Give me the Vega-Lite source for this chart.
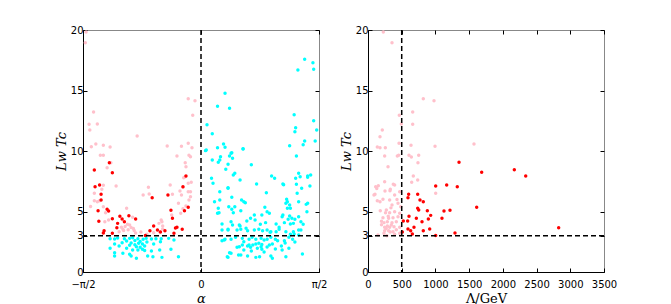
{
  "$schema": "https://vega.github.io/schema/vega-lite/v6.json",
  "background": "white",
  "padding": {"left": 54, "top": 24, "right": 5, "bottom": 5},
  "spacing": 11,
  "datasets": {
    "left": [
      {"a":-1.53,"L":19.83,"c":"pink"},{"a":-1.54,"L":18.95,"c":"pink"},{"a":-1.43,"L":13.22,"c":"pink"},{"a":-1.49,"L":12.21,"c":"pink"},{"a":-1.38,"L":12.23,"c":"pink"},{"a":-1.48,"L":11.73,"c":"pink"},{"a":-0.85,"L":11.24,"c":"pink"},{"a":-1.40,"L":10.58,"c":"pink"},{"a":-1.30,"L":10.47,"c":"pink"},{"a":-1.46,"L":10.35,"c":"pink"},{"a":-1.21,"L":10.33,"c":"pink"},{"a":-1.34,"L":9.64,"c":"pink"},{"a":-1.30,"L":9.64,"c":"pink"},{"a":-0.17,"L":14.32,"c":"pink"},{"a":-0.08,"L":14.16,"c":"pink"},{"a":-0.11,"L":12.95,"c":"pink"},{"a":-0.45,"L":10.41,"c":"pink"},{"a":-0.26,"L":10.39,"c":"pink"},{"a":-0.17,"L":10.64,"c":"pink"},{"a":-0.12,"L":10.27,"c":"pink"},{"a":-0.32,"L":9.59,"c":"pink"},{"a":-0.16,"L":9.64,"c":"pink"},{"a":-0.14,"L":9.53,"c":"pink"},{"a":-1.20,"L":9.03,"c":"pink"},{"a":-1.25,"L":8.62,"c":"pink"},{"a":-1.13,"L":7.11,"c":"pink"},{"a":-1.42,"L":6.50,"c":"pink"},{"a":-1.30,"L":7.17,"c":"pink"},{"a":-1.32,"L":6.83,"c":"pink"},{"a":-1.35,"L":5.89,"c":"pink"},{"a":-1.42,"L":5.89,"c":"pink"},{"a":-1.47,"L":5.41,"c":"pink"},{"a":-1.30,"L":5.40,"c":"pink"},{"a":-1.27,"L":4.90,"c":"pink"},{"a":-0.99,"L":5.26,"c":"pink"},{"a":-0.91,"L":4.52,"c":"pink"},{"a":-1.28,"L":4.16,"c":"pink"},{"a":-1.23,"L":4.30,"c":"pink"},{"a":-0.95,"L":3.88,"c":"pink"},{"a":-1.01,"L":3.76,"c":"pink"},{"a":-0.93,"L":3.68,"c":"pink"},{"a":-1.04,"L":3.53,"c":"pink"},{"a":-1.09,"L":3.33,"c":"pink"},{"a":-1.03,"L":3.43,"c":"pink"},{"a":-0.97,"L":3.50,"c":"pink"},{"a":-0.89,"L":3.43,"c":"pink"},{"a":-0.80,"L":3.31,"c":"pink"},{"a":-0.87,"L":3.22,"c":"pink"},{"a":-0.63,"L":3.25,"c":"pink"},{"a":-0.55,"L":3.33,"c":"pink"},{"a":-0.77,"L":6.36,"c":"pink"},{"a":-0.70,"L":7.00,"c":"pink"},{"a":-0.69,"L":6.45,"c":"pink"},{"a":-0.72,"L":3.12,"c":"pink"},{"a":-0.56,"L":4.02,"c":"pink"},{"a":-0.53,"L":4.30,"c":"pink"},{"a":-0.51,"L":3.55,"c":"pink"},{"a":-0.52,"L":4.16,"c":"pink"},{"a":-0.38,"L":6.42,"c":"pink"},{"a":-0.41,"L":7.19,"c":"pink"},{"a":-0.30,"L":5.68,"c":"pink"},{"a":-0.27,"L":4.85,"c":"pink"},{"a":-0.24,"L":7.00,"c":"pink"},{"a":-0.21,"L":7.88,"c":"pink"},{"a":-0.28,"L":6.69,"c":"pink"},{"a":-0.26,"L":6.36,"c":"pink"},{"a":-0.24,"L":5.23,"c":"pink"},{"a":-0.20,"L":5.45,"c":"pink"},{"a":-0.17,"L":6.64,"c":"pink"},{"a":-0.14,"L":6.64,"c":"pink"},{"a":-0.16,"L":5.95,"c":"pink"},{"a":-0.14,"L":6.22,"c":"pink"},{"a":-0.17,"L":7.33,"c":"pink"},{"a":-0.23,"L":7.79,"c":"pink"},{"a":-0.20,"L":8.70,"c":"pink"},{"a":-0.21,"L":9.03,"c":"pink"},{"a":-0.13,"L":7.41,"c":"pink"},{"a":-0.39,"L":4.71,"c":"pink"},{"a":-0.51,"L":3.80,"c":"pink"},{"a":-1.38,"L":5.81,"c":"pink"},{"a":-0.90,"L":3.60,"c":"pink"},{"a":-0.98,"L":3.95,"c":"pink"},{"a":-1.06,"L":3.70,"c":"pink"},
      {"a":-1.22,"L":9.03,"c":"red"},{"a":-1.42,"L":8.43,"c":"red"},{"a":-1.18,"L":8.21,"c":"red"},{"a":-1.35,"L":7.19,"c":"red"},{"a":-1.41,"L":7.05,"c":"red"},{"a":-1.33,"L":6.42,"c":"red"},{"a":-0.65,"L":6.14,"c":"red"},{"a":-1.33,"L":5.95,"c":"red"},{"a":-1.37,"L":5.07,"c":"red"},{"a":-1.25,"L":5.18,"c":"red"},{"a":-1.23,"L":5.04,"c":"red"},{"a":-0.96,"L":4.65,"c":"red"},{"a":-1.08,"L":4.60,"c":"red"},{"a":-1.18,"L":4.40,"c":"red"},{"a":-1.05,"L":4.38,"c":"red"},{"a":-1.02,"L":4.16,"c":"red"},{"a":-0.87,"L":4.38,"c":"red"},{"a":-1.36,"L":4.19,"c":"red"},{"a":-1.11,"L":4.02,"c":"red"},{"a":-1.12,"L":3.66,"c":"red"},{"a":-1.29,"L":3.41,"c":"red"},{"a":-1.18,"L":3.20,"c":"red"},{"a":-0.68,"L":3.41,"c":"red"},{"a":-0.58,"L":3.47,"c":"red"},{"a":-0.74,"L":3.02,"c":"red"},{"a":-0.63,"L":3.80,"c":"red"},{"a":-0.44,"L":6.36,"c":"red"},{"a":-0.40,"L":5.10,"c":"red"},{"a":-0.38,"L":4.44,"c":"red"},{"a":-0.36,"L":3.20,"c":"red"},{"a":-0.32,"L":3.69,"c":"red"},{"a":-0.25,"L":3.53,"c":"red"},{"a":-0.22,"L":5.07,"c":"red"},{"a":-0.20,"L":7.93,"c":"red"},{"a":-0.24,"L":7.05,"c":"red"},{"a":-0.17,"L":5.35,"c":"red"},{"a":-0.34,"L":3.64,"c":"red"},{"a":-0.54,"L":3.31,"c":"red"},{"a":-0.48,"L":3.41,"c":"red"},{"a":-1.30,"L":3.22,"c":"red"},
      {"a":-1.21,"L":2.75,"c":"cyan"},{"a":-1.15,"L":2.73,"c":"cyan"},{"a":-1.11,"L":2.81,"c":"cyan"},{"a":-1.02,"L":2.75,"c":"cyan"},{"a":-0.95,"L":2.78,"c":"cyan"},{"a":-0.91,"L":2.83,"c":"cyan"},{"a":-0.84,"L":2.75,"c":"cyan"},{"a":-0.77,"L":2.70,"c":"cyan"},{"a":-0.73,"L":2.78,"c":"cyan"},{"a":-0.66,"L":2.73,"c":"cyan"},{"a":-0.60,"L":2.75,"c":"cyan"},{"a":-0.53,"L":2.75,"c":"cyan"},{"a":-1.15,"L":2.31,"c":"cyan"},{"a":-1.05,"L":2.42,"c":"cyan"},{"a":-0.95,"L":2.21,"c":"cyan"},{"a":-0.88,"L":2.26,"c":"cyan"},{"a":-0.83,"L":2.37,"c":"cyan"},{"a":-0.78,"L":2.31,"c":"cyan"},{"a":-0.86,"L":2.09,"c":"cyan"},{"a":-0.81,"L":2.04,"c":"cyan"},{"a":-0.75,"L":2.15,"c":"cyan"},{"a":-1.21,"L":1.96,"c":"cyan"},{"a":-0.99,"L":1.96,"c":"cyan"},{"a":-0.91,"L":1.82,"c":"cyan"},{"a":-0.84,"L":1.82,"c":"cyan"},{"a":-0.78,"L":1.88,"c":"cyan"},{"a":-1.04,"L":1.55,"c":"cyan"},{"a":-0.95,"L":1.46,"c":"cyan"},{"a":-1.15,"L":1.59,"c":"cyan"},{"a":-0.66,"L":1.74,"c":"cyan"},{"a":-0.55,"L":1.82,"c":"cyan"},{"a":-1.15,"L":1.32,"c":"cyan"},{"a":-0.93,"L":1.32,"c":"cyan"},{"a":-0.86,"L":1.13,"c":"cyan"},{"a":-0.71,"L":1.32,"c":"cyan"},{"a":-0.64,"L":1.26,"c":"cyan"},{"a":-0.52,"L":1.21,"c":"cyan"},{"a":-0.40,"L":1.88,"c":"cyan"},{"a":-0.30,"L":1.26,"c":"cyan"},{"a":-0.54,"L":2.50,"c":"cyan"},{"a":-0.43,"L":2.78,"c":"cyan"},{"a":-0.36,"L":2.64,"c":"cyan"},{"a":-0.88,"L":2.60,"c":"cyan"},{"a":-0.99,"L":2.56,"c":"cyan"},{"a":-0.81,"L":2.52,"c":"cyan"},{"a":-0.72,"L":2.48,"c":"cyan"},{"a":-0.93,"L":2.40,"c":"cyan"},{"a":-0.75,"L":1.78,"c":"cyan"},{"a":-1.09,"L":2.15,"c":"cyan"},{"a":-0.63,"L":2.31,"c":"cyan"},
      {"a":0.06,"L":10.03,"c":"cyan"},{"a":0.26,"L":9.53,"c":"cyan"},{"a":0.40,"L":9.81,"c":"cyan"},{"a":0.38,"L":9.59,"c":"cyan"},{"a":0.15,"L":9.26,"c":"cyan"},{"a":0.23,"L":9.07,"c":"cyan"},{"a":0.25,"L":9.26,"c":"cyan"},{"a":0.36,"L":8.90,"c":"cyan"},{"a":0.67,"L":8.87,"c":"cyan"},{"a":1.27,"L":9.59,"c":"cyan"},{"a":0.14,"L":7.74,"c":"cyan"},{"a":0.16,"L":7.33,"c":"cyan"},{"a":0.43,"L":8.02,"c":"cyan"},{"a":0.52,"L":7.60,"c":"cyan"},{"a":0.94,"L":7.93,"c":"cyan"},{"a":0.98,"L":7.74,"c":"cyan"},{"a":1.30,"L":8.16,"c":"cyan"},{"a":1.32,"L":7.88,"c":"cyan"},{"a":1.42,"L":7.93,"c":"cyan"},{"a":1.46,"L":8.02,"c":"cyan"},{"a":0.74,"L":7.27,"c":"cyan"},{"a":1.09,"L":7.27,"c":"cyan"},{"a":1.27,"L":7.25,"c":"cyan"},{"a":0.36,"L":6.92,"c":"cyan"},{"a":0.25,"L":6.64,"c":"cyan"},{"a":0.87,"L":6.55,"c":"cyan"},{"a":1.28,"L":6.50,"c":"cyan"},{"a":0.18,"L":5.81,"c":"cyan"},{"a":0.25,"L":5.95,"c":"cyan"},{"a":0.54,"L":5.95,"c":"cyan"},{"a":0.57,"L":5.81,"c":"cyan"},{"a":1.14,"L":6.01,"c":"cyan"},{"a":1.15,"L":5.81,"c":"cyan"},{"a":1.18,"L":5.54,"c":"cyan"},{"a":1.30,"L":5.81,"c":"cyan"},{"a":1.42,"L":5.68,"c":"cyan"},{"a":0.37,"L":5.40,"c":"cyan"},{"a":0.45,"L":5.40,"c":"cyan"},{"a":0.41,"L":5.18,"c":"cyan"},{"a":0.23,"L":5.26,"c":"cyan"},{"a":0.85,"L":5.35,"c":"cyan"},{"a":0.24,"L":4.90,"c":"cyan"},{"a":0.43,"L":4.90,"c":"cyan"},{"a":0.88,"L":4.98,"c":"cyan"},{"a":0.91,"L":4.85,"c":"cyan"},{"a":1.41,"L":4.98,"c":"cyan"},{"a":0.81,"L":4.71,"c":"cyan"},{"a":1.09,"L":4.71,"c":"cyan"},{"a":1.18,"L":4.63,"c":"cyan"},{"a":1.21,"L":4.44,"c":"cyan"},{"a":1.25,"L":4.36,"c":"cyan"},{"a":0.28,"L":3.97,"c":"cyan"},{"a":0.40,"L":4.16,"c":"cyan"},{"a":0.42,"L":3.88,"c":"cyan"},{"a":0.51,"L":3.88,"c":"cyan"},{"a":0.66,"L":4.44,"c":"cyan"},{"a":0.72,"L":4.30,"c":"cyan"},{"a":0.86,"L":4.08,"c":"cyan"},{"a":1.00,"L":3.97,"c":"cyan"},{"a":1.11,"L":4.08,"c":"cyan"},{"a":1.23,"L":4.02,"c":"cyan"},{"a":1.30,"L":4.57,"c":"cyan"},{"a":1.33,"L":4.16,"c":"cyan"},{"a":0.28,"L":3.47,"c":"cyan"},{"a":0.36,"L":3.47,"c":"cyan"},{"a":0.48,"L":3.47,"c":"cyan"},{"a":0.53,"L":3.53,"c":"cyan"},{"a":0.60,"L":3.61,"c":"cyan"},{"a":0.62,"L":3.41,"c":"cyan"},{"a":0.71,"L":3.47,"c":"cyan"},{"a":0.77,"L":3.53,"c":"cyan"},{"a":0.82,"L":3.41,"c":"cyan"},{"a":0.88,"L":3.47,"c":"cyan"},{"a":0.93,"L":3.33,"c":"cyan"},{"a":1.04,"L":3.53,"c":"cyan"},{"a":1.13,"L":3.33,"c":"cyan"},{"a":1.23,"L":3.33,"c":"cyan"},{"a":1.30,"L":3.47,"c":"cyan"},{"a":1.33,"L":3.47,"c":"cyan"},
      {"a":0.28,"L":2.59,"c":"cyan"},{"a":0.32,"L":2.70,"c":"cyan"},{"a":0.40,"L":2.70,"c":"cyan"},{"a":0.46,"L":2.87,"c":"cyan"},{"a":0.55,"L":2.78,"c":"cyan"},{"a":0.57,"L":2.50,"c":"cyan"},{"a":0.64,"L":2.70,"c":"cyan"},{"a":0.68,"L":2.87,"c":"cyan"},{"a":0.73,"L":2.70,"c":"cyan"},{"a":0.80,"L":2.78,"c":"cyan"},{"a":0.84,"L":2.64,"c":"cyan"},{"a":0.88,"L":2.70,"c":"cyan"},{"a":0.93,"L":2.87,"c":"cyan"},{"a":0.99,"L":2.70,"c":"cyan"},{"a":1.02,"L":2.59,"c":"cyan"},{"a":1.11,"L":2.59,"c":"cyan"},{"a":1.17,"L":2.87,"c":"cyan"},{"a":1.22,"L":2.70,"c":"cyan"},{"a":0.64,"L":2.23,"c":"cyan"},{"a":0.69,"L":2.23,"c":"cyan"},{"a":0.73,"L":2.31,"c":"cyan"},{"a":0.77,"L":2.37,"c":"cyan"},{"a":0.66,"L":2.04,"c":"cyan"},{"a":0.75,"L":1.96,"c":"cyan"},{"a":0.80,"L":2.09,"c":"cyan"},{"a":0.81,"L":1.88,"c":"cyan"},{"a":0.91,"L":2.23,"c":"cyan"},{"a":0.95,"L":2.31,"c":"cyan"},{"a":0.48,"L":2.04,"c":"cyan"},{"a":0.55,"L":2.23,"c":"cyan"},{"a":1.07,"L":2.15,"c":"cyan"},{"a":1.08,"L":1.82,"c":"cyan"},{"a":1.17,"L":1.96,"c":"cyan"},{"a":0.40,"L":1.55,"c":"cyan"},{"a":0.50,"L":1.40,"c":"cyan"},{"a":0.62,"L":1.32,"c":"cyan"},{"a":0.73,"L":1.21,"c":"cyan"},{"a":0.78,"L":1.26,"c":"cyan"},{"a":0.93,"L":1.32,"c":"cyan"},{"a":0.36,"L":1.21,"c":"cyan"},{"a":1.13,"L":1.26,"c":"cyan"},{"a":0.62,"L":2.15,"c":"cyan"},{"a":0.95,"L":1.13,"c":"cyan"},{"a":1.35,"L":1.49,"c":"cyan"},{"a":0.53,"L":1.40,"c":"cyan"},{"a":0.57,"L":1.82,"c":"cyan"},{"a":0.84,"L":1.65,"c":"cyan"},{"a":0.99,"L":1.90,"c":"cyan"},{"a":0.67,"L":1.74,"c":"cyan"},{"a":0.88,"L":2.07,"c":"cyan"},{"a":0.81,"L":2.27,"c":"cyan"},{"a":1.12,"L":2.40,"c":"cyan"},{"a":1.25,"L":2.48,"c":"cyan"},
      {"a":0.22,"L":10.27,"c":"cyan"},{"a":0.32,"L":10.31,"c":"cyan"},{"a":0.41,"L":9.86,"c":"cyan"},{"a":0.33,"L":8.49,"c":"cyan"},{"a":0.45,"L":8.16,"c":"cyan"},{"a":0.36,"L":6.97,"c":"cyan"},{"a":0.41,"L":6.17,"c":"cyan"},{"a":0.22,"L":4.85,"c":"cyan"},{"a":0.36,"L":3.53,"c":"cyan"},{"a":0.51,"L":2.09,"c":"cyan"},{"a":0.38,"L":1.59,"c":"cyan"},{"a":0.35,"L":1.26,"c":"cyan"},{"a":0.31,"L":2.64,"c":"cyan"},
      {"a":1.18,"L":10.44,"c":"cyan"},{"a":1.38,"L":10.83,"c":"cyan"},{"a":1.52,"L":10.83,"c":"cyan"},{"a":0.56,"L":10.16,"c":"cyan"},{"a":1.26,"L":7.74,"c":"cyan"},{"a":1.42,"L":7.83,"c":"cyan"},{"a":1.10,"L":7.21,"c":"cyan"},{"a":1.34,"L":6.92,"c":"cyan"},{"a":1.45,"L":7.11,"c":"cyan"},{"a":0.59,"L":5.73,"c":"cyan"},{"a":1.13,"L":5.68,"c":"cyan"},{"a":1.15,"L":5.26,"c":"cyan"},{"a":1.19,"L":5.26,"c":"cyan"},{"a":0.53,"L":5.07,"c":"cyan"},{"a":1.40,"L":5.59,"c":"cyan"},{"a":0.71,"L":4.71,"c":"cyan"},{"a":1.08,"L":4.57,"c":"cyan"},{"a":0.61,"L":4.21,"c":"cyan"},{"a":1.16,"L":4.36,"c":"cyan"},{"a":1.19,"L":3.97,"c":"cyan"},{"a":0.79,"L":3.94,"c":"cyan"},{"a":1.36,"L":3.94,"c":"cyan"},{"a":0.52,"L":3.80,"c":"cyan"},{"a":1.04,"L":3.69,"c":"cyan"},{"a":0.92,"L":3.28,"c":"cyan"},{"a":1.00,"L":3.33,"c":"cyan"},{"a":1.19,"L":3.12,"c":"cyan"},{"a":1.24,"L":3.14,"c":"cyan"},{"a":1.30,"L":3.06,"c":"cyan"},
      {"a":1.38,"L":17.58,"c":"cyan"},{"a":1.49,"L":17.30,"c":"cyan"},{"a":1.29,"L":16.69,"c":"cyan"},{"a":1.50,"L":16.75,"c":"cyan"},{"a":0.32,"L":14.77,"c":"cyan"},{"a":0.22,"L":13.69,"c":"cyan"},{"a":0.38,"L":13.53,"c":"cyan"},{"a":1.24,"L":13.00,"c":"cyan"},{"a":1.50,"L":12.50,"c":"cyan"},{"a":1.26,"L":11.92,"c":"cyan"},{"a":1.54,"L":11.73,"c":"cyan"},{"a":1.25,"L":11.59,"c":"cyan"},{"a":0.08,"L":12.17,"c":"cyan"},{"a":0.15,"L":11.43,"c":"cyan"},{"a":0.30,"L":10.58,"c":"cyan"},{"a":1.36,"L":10.52,"c":"cyan"},{"a":0.07,"L":10.08,"c":"cyan"},{"a":0.56,"L":10.19,"c":"cyan"},{"a":0.42,"L":9.40,"c":"cyan"}
    ],
    "right": [
      {"G":227,"L":19.83,"c":"pink"},{"G":356,"L":18.95,"c":"pink"},{"G":820,"L":14.32,"c":"pink"},{"G":979,"L":14.16,"c":"pink"},{"G":663,"L":13.22,"c":"pink"},{"G":464,"L":12.95,"c":"pink"},{"G":494,"L":12.23,"c":"pink"},{"G":663,"L":12.21,"c":"pink"},{"G":212,"L":11.73,"c":"pink"},{"G":178,"L":11.18,"c":"pink"},{"G":460,"L":10.64,"c":"pink"},{"G":638,"L":10.47,"c":"pink"},{"G":994,"L":10.39,"c":"pink"},{"G":1572,"L":10.58,"c":"pink"},{"G":138,"L":10.33,"c":"pink"},{"G":178,"L":10.27,"c":"pink"},{"G":257,"L":10.27,"c":"pink"},{"G":247,"L":9.59,"c":"pink"},{"G":435,"L":9.59,"c":"pink"},{"G":455,"L":9.64,"c":"pink"},{"G":608,"L":9.64,"c":"pink"},{"G":643,"L":9.50,"c":"pink"},{"G":752,"L":9.64,"c":"pink"},
      {"G":297,"L":8.70,"c":"pink"},{"G":741,"L":9.03,"c":"pink"},{"G":672,"L":7.93,"c":"pink"},{"G":737,"L":7.60,"c":"pink"},{"G":648,"L":7.41,"c":"pink"},{"G":114,"L":7.05,"c":"pink"},{"G":153,"L":7.13,"c":"pink"},{"G":375,"L":7.25,"c":"pink"},{"G":104,"L":6.42,"c":"pink"},{"G":252,"L":6.69,"c":"pink"},{"G":326,"L":6.72,"c":"pink"},{"G":1004,"L":6.50,"c":"pink"},{"G":247,"L":7.46,"c":"pink"},{"G":89,"L":6.36,"c":"pink"},{"G":331,"L":6.83,"c":"pink"},{"G":395,"L":7.19,"c":"pink"},{"G":395,"L":6.36,"c":"pink"},{"G":470,"L":6.64,"c":"pink"},{"G":138,"L":5.89,"c":"pink"},{"G":222,"L":6.01,"c":"pink"},{"G":321,"L":5.95,"c":"pink"},{"G":356,"L":5.54,"c":"pink"},{"G":445,"L":5.68,"c":"pink"},{"G":485,"L":5.40,"c":"pink"},{"G":182,"L":5.07,"c":"pink"},{"G":272,"L":5.12,"c":"pink"},{"G":321,"L":4.90,"c":"pink"},{"G":395,"L":4.98,"c":"pink"},{"G":470,"L":4.85,"c":"pink"},{"G":222,"L":4.49,"c":"pink"},{"G":306,"L":4.44,"c":"pink"},{"G":371,"L":4.49,"c":"pink"},{"G":445,"L":4.57,"c":"pink"},{"G":237,"L":4.08,"c":"pink"},{"G":287,"L":4.16,"c":"pink"},{"G":356,"L":4.08,"c":"pink"},{"G":420,"L":4.16,"c":"pink"},{"G":247,"L":3.69,"c":"pink"},{"G":287,"L":3.80,"c":"pink"},{"G":321,"L":3.69,"c":"pink"},{"G":346,"L":3.88,"c":"pink"},{"G":386,"L":3.74,"c":"pink"},{"G":470,"L":3.69,"c":"pink"},{"G":247,"L":3.41,"c":"pink"},{"G":306,"L":3.41,"c":"pink"},{"G":371,"L":3.33,"c":"pink"},{"G":148,"L":3.06,"c":"pink"},{"G":237,"L":3.20,"c":"pink"},{"G":395,"L":3.12,"c":"pink"},{"G":470,"L":3.20,"c":"pink"},{"G":178,"L":5.81,"c":"pink"},{"G":200,"L":3.90,"c":"pink"},{"G":270,"L":3.60,"c":"pink"},{"G":330,"L":3.30,"c":"pink"},{"G":300,"L":4.60,"c":"pink"},{"G":260,"L":4.90,"c":"pink"},{"G":420,"L":3.50,"c":"pink"},{"G":340,"L":5.30,"c":"pink"},{"G":200,"L":4.20,"c":"pink"},{"G":280,"L":3.00,"c":"pink"},{"G":430,"L":6.00,"c":"pink"},{"G":130,"L":6.90,"c":"pink"},
      {"G":1350,"L":9.07,"c":"red"},{"G":1686,"L":8.24,"c":"red"},{"G":1004,"L":7.11,"c":"red"},{"G":1167,"L":7.19,"c":"red"},{"G":1324,"L":7.05,"c":"red"},{"G":603,"L":6.42,"c":"red"},{"G":737,"L":6.42,"c":"red"},{"G":593,"L":6.14,"c":"red"},{"G":771,"L":5.95,"c":"red"},{"G":820,"L":5.81,"c":"red"},{"G":1612,"L":5.35,"c":"red"},{"G":737,"L":5.26,"c":"red"},{"G":752,"L":5.12,"c":"red"},{"G":880,"L":5.07,"c":"red"},{"G":1127,"L":5.04,"c":"red"},{"G":1216,"L":5.10,"c":"red"},{"G":930,"L":4.68,"c":"red"},{"G":608,"L":4.60,"c":"red"},{"G":717,"L":4.44,"c":"red"},{"G":895,"L":4.38,"c":"red"},{"G":1097,"L":4.44,"c":"red"},{"G":524,"L":4.21,"c":"red"},{"G":588,"L":4.21,"c":"red"},{"G":682,"L":3.69,"c":"red"},{"G":593,"L":3.55,"c":"red"},{"G":633,"L":3.41,"c":"red"},{"G":658,"L":3.14,"c":"red"},{"G":915,"L":3.55,"c":"red"},{"G":820,"L":3.41,"c":"red"},{"G":509,"L":3.31,"c":"red"},{"G":1290,"L":3.22,"c":"red"},{"G":1004,"L":3.02,"c":"red"},{"G":2170,"L":8.45,"c":"red"},{"G":2339,"L":7.93,"c":"red"},{"G":2828,"L":3.66,"c":"red"},{"G":801,"L":4.16,"c":"red"}
    ]
  },
  "hconcat": [
    {
      "width": 236,
      "height": 242,
      "layer": [
        {
          "data": {"name": "left"},
          "mark": {"type": "circle", "size": 12, "opacity": 1},
          "encoding": {
            "x": {"field": "a", "type": "quantitative", "scale": {"domain": [-1.5708, 1.5708], "nice": false, "zero": false},
                  "axis": {"values": [-1.5708, 0, 1.5708], "labelExpr": "datum.value < -1 ? '−π/2' : (datum.value > 1 ? 'π/2' : '0')", "title": "α", "titleFontStyle": "italic", "labelOverlap": false, "labelBound": false, "labelFlush": false}},
            "y": {"field": "L", "type": "quantitative", "scale": {"domain": [0, 20], "nice": false, "zero": false},
                  "axis": {"values": [0, 3, 5, 10, 15, 20], "title": "Lw Tc", "titleFontStyle": "italic", "labelFlush": false}},
            "color": {"field": "c", "type": "nominal", "scale": {"domain": ["pink", "red", "cyan"], "range": ["#FFC0CB", "#FF0000", "#00FFFF"]}, "legend": null}
          }
        },
        {
          "data": {"values": [{"v": 0}]},
          "mark": {"type": "rule", "strokeDash": [5, 3], "strokeWidth": 1.5, "color": "black"},
          "encoding": {"x": {"field": "v", "type": "quantitative", "axis": {"orient": "top", "labels": false, "title": null, "domain": false, "values": [-1.5708, 0, 1.5708]}}}
        },
        {
          "data": {"values": [{"v": 3}]},
          "mark": {"type": "rule", "strokeDash": [5, 3], "strokeWidth": 1.5, "color": "black"},
          "encoding": {"y": {"field": "v", "type": "quantitative", "axis": {"orient": "right", "labels": false, "title": null, "domain": false, "values": [0, 3, 5, 10, 15, 20]}}}
        }
      ],
      "resolve": {"axis": {"x": "independent", "y": "independent"}}
    },
    {
      "width": 236,
      "height": 242,
      "layer": [
        {
          "data": {"name": "right"},
          "mark": {"type": "circle", "size": 12, "opacity": 1},
          "encoding": {
            "x": {"field": "G", "type": "quantitative", "scale": {"domain": [0, 3500], "nice": false, "zero": false},
                  "axis": {"values": [0, 500, 1000, 1500, 2000, 2500, 3000, 3500], "format": "d", "title": "Λ/GeV", "labelOverlap": false, "labelBound": false, "labelFlush": false}},
            "y": {"field": "L", "type": "quantitative", "scale": {"domain": [0, 20], "nice": false, "zero": false},
                  "axis": {"values": [0, 3, 5, 10, 15, 20], "title": "Lw Tc", "titleFontStyle": "italic", "labelFlush": false}},
            "color": {"field": "c", "type": "nominal", "scale": {"domain": ["pink", "red", "cyan"], "range": ["#FFC0CB", "#FF0000", "#00FFFF"]}, "legend": null}
          }
        },
        {
          "data": {"values": [{"v": 500}]},
          "mark": {"type": "rule", "strokeDash": [5, 3], "strokeWidth": 1.5, "color": "black"},
          "encoding": {"x": {"field": "v", "type": "quantitative", "axis": {"orient": "top", "labels": false, "title": null, "domain": false, "values": [0, 500, 1000, 1500, 2000, 2500, 3000, 3500]}}}
        },
        {
          "data": {"values": [{"v": 3}]},
          "mark": {"type": "rule", "strokeDash": [5, 3], "strokeWidth": 1.5, "color": "black"},
          "encoding": {"y": {"field": "v", "type": "quantitative", "axis": {"orient": "right", "labels": false, "title": null, "domain": false, "values": [0, 3, 5, 10, 15, 20]}}}
        }
      ],
      "resolve": {"axis": {"x": "independent", "y": "independent"}}
    }
  ],
  "config": {
    "view": {"stroke": "#888888", "strokeWidth": 1},
    "axis": {
      "grid": false,
      "domainColor": "black",
      "tickColor": "black",
      "labelColor": "black",
      "labelFont": "DejaVu Sans",
      "labelFontSize": 10,
      "titleFont": "DejaVu Serif",
      "titleFontSize": 13,
      "titleFontWeight": "normal",
      "titleColor": "black",
      "tickSize": -4,
      "labelPadding": 4,
      "titlePadding": 2
    },
    "axisX": {"labelPadding": 11, "titlePadding": 3}
  }
}
